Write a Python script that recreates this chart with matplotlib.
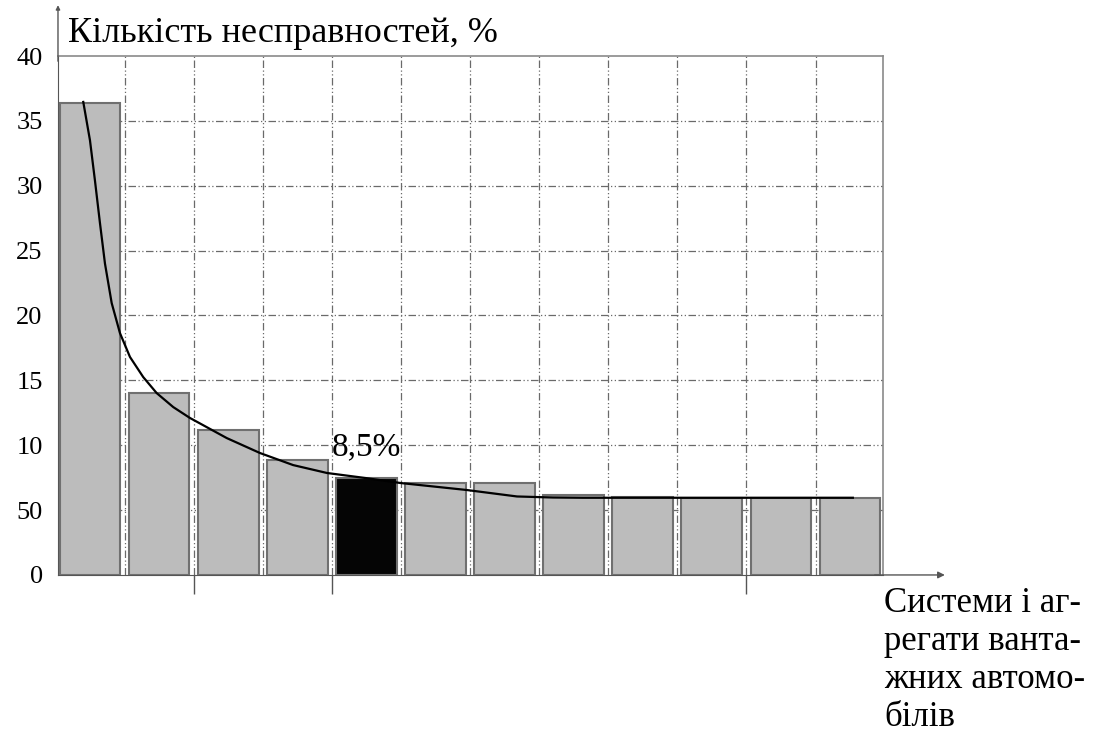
import numpy as np
import matplotlib
matplotlib.use("Agg")
import matplotlib.pyplot as plt

plt.rcParams['font.family'] = ['Liberation Serif', 'DejaVu Serif']

# bar heights, %
bar_values = [36.4, 14.0, 11.2, 8.85, 7.5, 7.05, 7.05, 6.15, 6.0, 5.9, 5.9, 5.9]
highlight = 4  # black bar

# trend curve points (x in bar index units)
curve_x = [-0.097, 0.0, 0.072, 0.145, 0.217, 0.314, 0.434, 0.579, 0.771,
           0.965, 1.205, 1.447, 1.98, 2.46, 2.94, 3.43, 3.99, 4.49, 5.45,
           6.18, 6.7, 7.13, 11.04]
curve_y = [36.46, 33.5, 30.4, 27.1, 24.0, 20.96, 18.64, 16.8, 15.25,
           14.02, 12.94, 12.1, 10.55, 9.4, 8.47, 7.86, 7.47, 7.09, 6.55,
           6.05, 5.97, 5.95, 5.95]

ytick_vals = [0, 5, 10, 15, 20, 25, 30, 35, 40]
ytick_labels = ['0', '50', '10', '15', '20', '25', '30', '35', '40']

title_text = "Кількість несправностей, %"
xlabel_lines = ["Системи і аг-", "регати ванта-", "жних автомо-", "білів"]
note_text = "8,5%"

fig = plt.figure(figsize=(10.94, 7.36), dpi=100)
ax = fig.add_axes([0.0530, 0.2188, 0.7541, 0.7051])

x = np.arange(len(bar_values))
colors = ['#bcbcbc'] * len(bar_values)
colors[highlight] = '#050505'
ax.bar(x, bar_values, width=0.88, color=colors, edgecolor='#707070',
       linewidth=1.5, zorder=3)

ax.plot(curve_x, curve_y, color='black', lw=1.6, zorder=4)

# dash-dot grid
grid_style = dict(color='#6a6a6a', lw=0.9, ls=(0, (6, 2, 1, 2, 1, 2)), zorder=1)
for gx in np.arange(0.5, 11, 1.0):
    ax.axvline(gx, **grid_style)
for gy in ytick_vals[1:-1]:
    ax.axhline(gy, **grid_style)

ax.set_xlim(-0.463, 11.476)
ax.set_ylim(0, 40)
ax.set_yticks(ytick_vals)
ax.set_yticklabels(ytick_labels, fontsize=19)
ax.tick_params(axis='y', length=0, pad=11)
ax.set_xticks([1.5, 3.5, 9.5])
ax.set_xticklabels([])
ax.tick_params(axis='x', length=14, width=1.0, color='#555555', direction='out')

for side in ['top', 'right']:
    ax.spines[side].set_color('#8a8a8a')
    ax.spines[side].set_linewidth(1.2)
ax.spines['left'].set_color('#555555')
ax.spines['bottom'].set_color('#555555')

# axis arrows
ax.annotate('', xy=(1.075, 0), xytext=(0.99, 0), xycoords='axes fraction',
            arrowprops=dict(arrowstyle='-|>', color='#555555', lw=1.0,
                            mutation_scale=10, shrinkA=0, shrinkB=0))
ax.annotate('', xy=(0, 1.098), xytext=(0, 0.99), xycoords='axes fraction',
            arrowprops=dict(arrowstyle='-|>', color='#555555', lw=1.0,
                            mutation_scale=6, shrinkA=0, shrinkB=0))

ax.text(3.50, 9.25, note_text, fontsize=24, ha='left', va='baseline', zorder=5)

fig.text(68 / 1094, 1 - 42 / 736, title_text, fontsize=26, ha='left', va='baseline')

for i, line in enumerate(xlabel_lines):
    fig.text(884 / 1094, 1 - (612 + 38 * i) / 736, line, fontsize=25,
             ha='left', va='baseline')

fig.savefig('out.png', dpi=100)
